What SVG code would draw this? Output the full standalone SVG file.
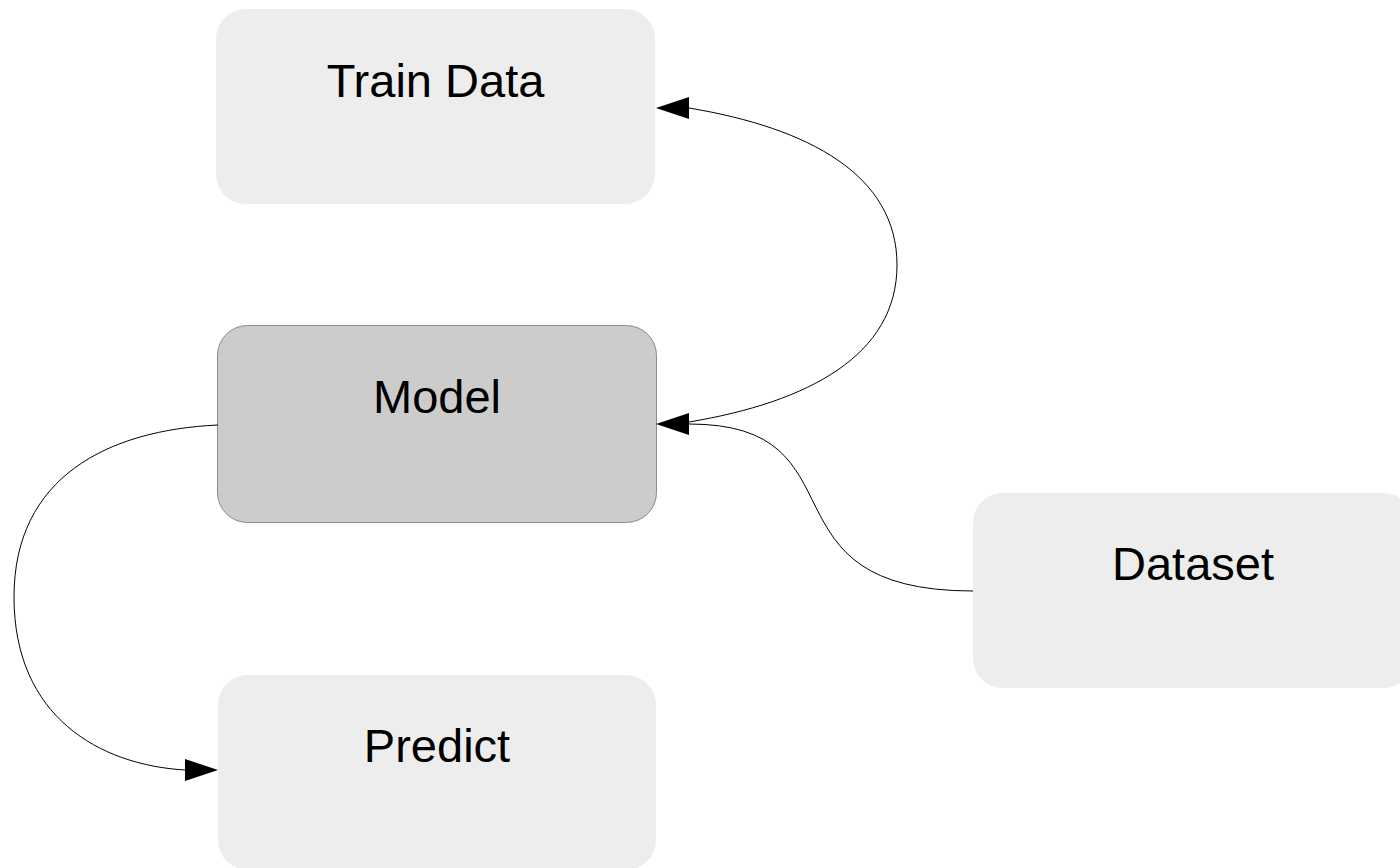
<svg xmlns="http://www.w3.org/2000/svg" width="1400" height="868" viewBox="0 0 1400 868">
  <style>
    .node rect { fill: #ededed; }
    .node.active rect { fill: #cccccc; stroke: #8c8c8c; stroke-width: 1; }
    .node text { font-family: "Liberation Sans", Arial, sans-serif; font-size: 47px; fill: #000; text-anchor: middle; }
    .edge { fill: none; stroke: #000; stroke-width: 1; }
  </style>
  <defs>
    <!-- arrowheads anchored at their base; the path ends where the head begins -->
    <marker id="head-left" markerUnits="userSpaceOnUse" viewBox="0 0 33 22" markerWidth="33" markerHeight="22" refX="0" refY="11" orient="180">
      <path d="M0,0 L33,11 L0,22 Z" fill="#000"/>
    </marker>
    <marker id="head-right" markerUnits="userSpaceOnUse" viewBox="0 0 33 22" markerWidth="33" markerHeight="22" refX="0" refY="11" orient="0">
      <path d="M0,0 L33,11 L0,22 Z" fill="#000"/>
    </marker>
  </defs>

  <rect width="1400" height="868" fill="#fff"/>

  <g id="node-train-data" class="node">
    <rect x="216" y="9" width="439" height="195" rx="30" ry="30"/>
    <text x="435.5" y="97">Train Data</text>
  </g>

  <g id="node-model" class="node active">
    <rect x="217.5" y="325.5" width="439" height="197" rx="30" ry="30"/>
    <text x="437" y="413">Model</text>
  </g>

  <g id="node-dataset" class="node">
    <rect x="973" y="493" width="440" height="195" rx="30" ry="30"/>
    <text x="1193" y="580">Dataset</text>
  </g>

  <g id="node-predict" class="node">
    <rect x="218" y="675" width="438" height="195" rx="30" ry="30"/>
    <text x="437" y="762">Predict</text>
  </g>

  <g id="connectors">
    <!-- Model -> Train Data -->
    <path class="edge" d="M689,422 C809,402 897,355 897,265 C897,175 809,128 689,108" marker-end="url(#head-left)"/>
    <!-- Dataset -> Model -->
    <path class="edge" d="M973,591 C753,591 869,424 689,424" marker-end="url(#head-left)"/>
    <!-- Model -> Predict -->
    <path class="edge" d="M218,425 C108,430 14,477 14,597 C14,717 100,765 185,770" marker-end="url(#head-right)"/>
  </g>
</svg>
